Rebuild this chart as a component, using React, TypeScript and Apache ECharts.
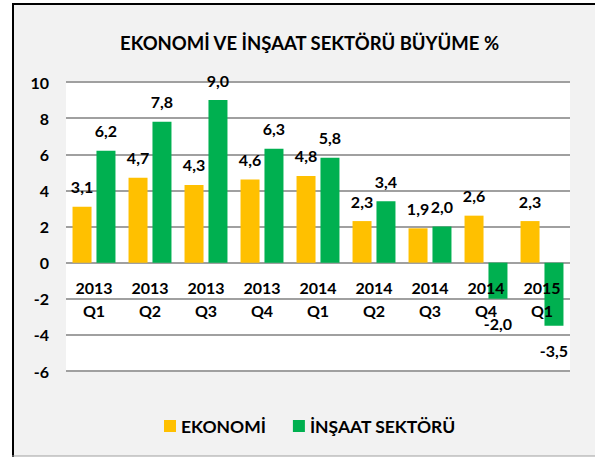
import React, { useEffect, useRef } from "react";
import * as echarts from "echarts";

const years = ["2013", "2013", "2013", "2013", "2014", "2014", "2014", "2014", "2015"];
const quarters = ["Q1", "Q2", "Q3", "Q4", "Q1", "Q2", "Q3", "Q4", "Q1"];
const ekonomi = [3.1, 4.7, 4.3, 4.6, 4.8, 2.3, 1.9, 2.6, 2.3];
const insaat = [6.2, 7.8, 9.0, 6.3, 5.8, 3.4, 2.0, -2.0, -3.5];
const seriesNames = ["EKONOMİ", "İNŞAAT SEKTÖRÜ"];
const titleText = "EKONOMİ VE İNŞAAT SEKTÖRÜ BÜYÜME %";

const FONT = "Lato";

export default function App() {
  const ref = useRef<HTMLDivElement>(null);
  useEffect(() => {
    if (!ref.current) return;
    const chart = echarts.init(ref.current, null, { renderer: "svg" });
    const categories = years.map((y, i) => `${y}\n${quarters[i]}`);
    const fmt = (v: number) => v.toFixed(1).replace(".", ",");
    const labelBase = {
      show: true,
      fontFamily: FONT,
      fontWeight: "bold" as const,
      fontSize: 16,
      color: "#000",
      formatter: (p: any) => fmt(p.value),
    };
    const toItems = (arr: number[]) =>
      arr.map((v) =>
        v < 0
          ? { value: v, label: { position: "bottom", distance: 17 } }
          : { value: v, label: { position: "top", distance: 12 } }
      );
    const gridTop = 82;
    const gridBottom = 86;
    const yMin = -6;
    const yMax = 10;
    const plotH = 457 - gridTop - gridBottom;
    const zeroOffset = -(plotH * (0 - yMin)) / (yMax - yMin);
    chart.setOption({
      animation: false,
      backgroundColor: "transparent",
      title: {
        text: titleText,
        left: 115,
        top: 28,
        textStyle: { fontFamily: FONT, fontWeight: "bold", fontSize: 18.5, color: "#000" },
      },
      graphic: [
        { type: "rect", z: -10, shape: { x: 12, y: 3, width: 590, height: 453 }, style: { fill: "#f2f2f2" } },
        { type: "line", z: -9, shape: { x1: 13, y1: 3, x2: 13, y2: 457 }, style: { stroke: "#000", lineWidth: 2 } },
        { type: "line", z: -9, shape: { x1: 12, y1: 4, x2: 595, y2: 4 }, style: { stroke: "#000", lineWidth: 2 } },
        { type: "line", z: -9, shape: { x1: 12, y1: 456, x2: 595, y2: 456 }, style: { stroke: "#a0a0a0", lineWidth: 1 } },
      ],
      legend: {
        left: 159,
        top: 412,
        icon: "rect",
        itemWidth: 12,
        itemHeight: 12,
        itemGap: 27,
        textStyle: { fontFamily: FONT, fontWeight: "bold", fontSize: 17.5, color: "#000" },
        data: seriesNames,
      },
      grid: {
        left: 66,
        right: 25,
        top: gridTop,
        bottom: gridBottom,
        show: true,
        backgroundColor: "#ffffff",
        borderWidth: 0,
      },
      xAxis: {
        type: "category",
        data: categories,
        z: 5,
        offset: zeroOffset,
        axisLine: { show: false, onZero: false },
        axisTick: { show: false },
        axisLabel: {
          interval: 0,
          margin: 13,
          lineHeight: 23,
          fontFamily: FONT,
          fontWeight: "bold",
          fontSize: 16,
          color: "#000",
        },
      },
      yAxis: {
        type: "value",
        min: yMin,
        max: yMax,
        interval: 2,
        axisLine: { show: false },
        axisTick: { show: false },
        splitLine: { lineStyle: { color: "#a0a0a0", width: 2 } },
        axisLabel: {
          margin: 17,
          fontFamily: FONT,
          fontWeight: "bold",
          fontSize: 16,
          color: "#000",
        },
      },
      series: [
        {
          name: seriesNames[0],
          type: "bar",
          barWidth: 19,
          barGap: "26%",
          itemStyle: { color: "#FFC000" },
          label: labelBase,
          data: toItems(ekonomi),
        },
        {
          name: seriesNames[1],
          type: "bar",
          barWidth: 19,
          barGap: "26%",
          itemStyle: { color: "#00B050" },
          label: labelBase,
          data: toItems(insaat),
        },
      ],
    });
    return () => chart.dispose();
  }, []);
  return (
    <div
      ref={ref}
      style={{ position: "fixed", left: 0, top: 0, width: 595, height: 457, background: "#fff" }}
    />
  );
}
